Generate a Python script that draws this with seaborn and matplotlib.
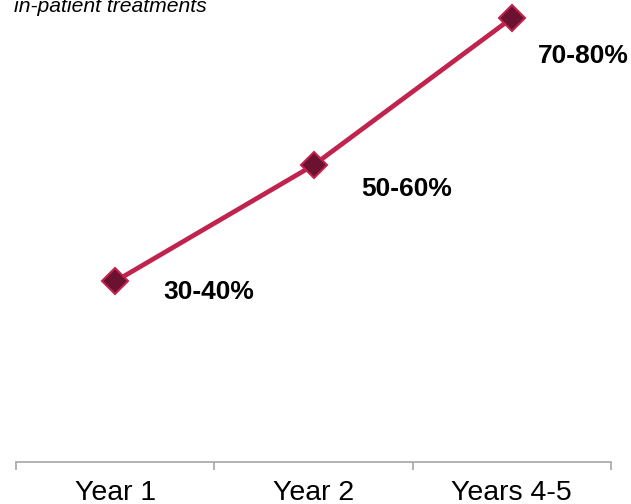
import matplotlib
matplotlib.use('Agg')
import matplotlib.pyplot as plt
import seaborn as sns
import pandas as pd

# data (arbitrary vertical scale, 0 at the axis line)
categories = ['Year 1', 'Year 2', 'Years 4-5']
share_mid = [35.0, 57.5, 86.0]
share_labels = ['30-40%', '50-60%', '70-80%']
label_offsets = [(35, -8), (34, -17), (19, -27)]   # offset points, right/down of marker

LINE_COLOR = '#C0234E'
MARKER_FILL = '#6A1230'
AXIS_GRAY = '#A6A6A6'

sns.set_theme(style='white')
plt.rcParams['font.family'] = ['Liberation Sans', 'DejaVu Sans']

df = pd.DataFrame({'period': categories, 'share': share_mid})

fig = plt.figure(figsize=(6.31, 5.04), dpi=100)
ax = fig.add_axes([16 / 631, 42 / 504, 595 / 631, 462 / 504])

sns.lineplot(data=df, x='period', y='share', ax=ax, sort=False,
             color=LINE_COLOR, lw=3.4, marker='D', markersize=13,
             markerfacecolor=MARKER_FILL, markeredgecolor=LINE_COLOR,
             markeredgewidth=1.5)

for i, (val, lab, off) in enumerate(zip(share_mid, share_labels, label_offsets)):
    ax.annotate(lab, xy=(i, val), xytext=off, textcoords='offset points',
                ha='left', va='center', fontsize=19, fontweight='bold',
                color='black')

ax.set_xlim(-0.5, 2.5)
ax.set_ylim(0, 89.5)

# boundary ticks (major, unlabeled) and centred category labels (minor)
ax.set_xticks([-0.5, 0.5, 1.5, 2.5])
ax.set_xticklabels([])
ax.set_xticks([0, 1, 2], minor=True)
ax.set_xticklabels(categories, minor=True, fontsize=20.5, color='black')
ax.tick_params(axis='x', which='major', direction='out', length=6,
               width=1.2, color=AXIS_GRAY, bottom=True)
ax.tick_params(axis='x', which='minor', length=0, pad=13)
ax.set_yticks([])
ax.set_xlabel('')
ax.set_ylabel('')

for side in ['top', 'right', 'left']:
    ax.spines[side].set_visible(False)
ax.spines['bottom'].set_color(AXIS_GRAY)
ax.spines['bottom'].set_linewidth(1.2)

fig.text(14 / 631, 1 - 12 / 504, 'in-patient treatments', fontsize=15.2,
         style='italic', ha='left', va='baseline', color='black')

fig.savefig('out.png', dpi=100)
